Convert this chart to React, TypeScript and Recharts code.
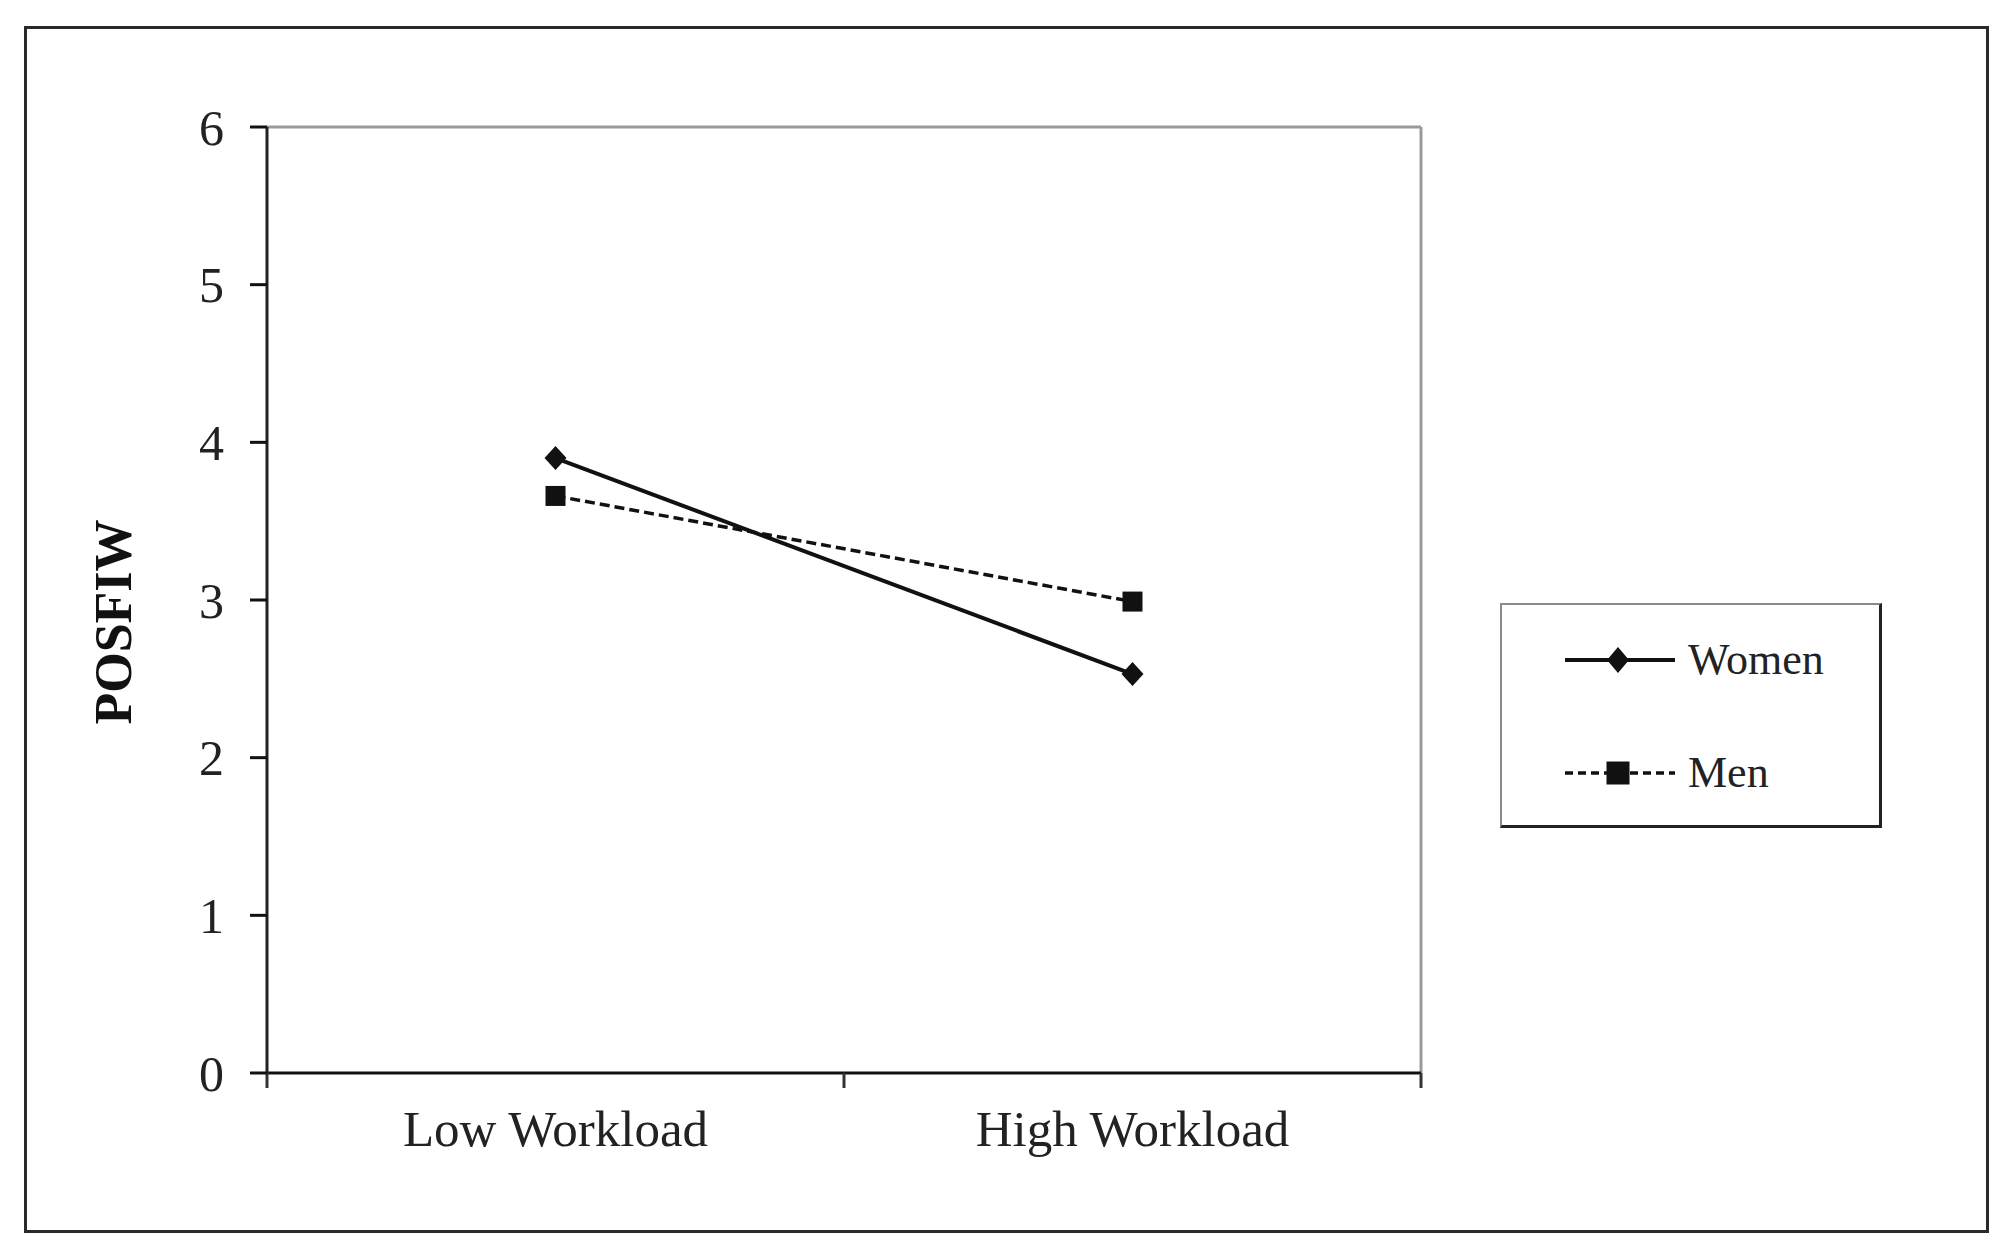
import React from "react";
import {
  LineChart,
  Line,
  XAxis,
  YAxis,
  ReferenceLine,
  Legend,
} from "recharts";

const categories = ["Low Workload", "High Workload"];
const womenValues = [3.9, 2.53];
const menValues = [3.66, 2.99];
const yTicks = [0, 1, 2, 3, 4, 5, 6];
const seriesNames = ["Women", "Men"];

const data = categories.map((name, i) => ({
  pos: i + 0.5,
  name,
  women: womenValues[i],
  men: menValues[i],
}));

const FONT = "'Liberation Serif', 'Times New Roman', serif";
const INK = "#111";

const Diamond = ({ cx, cy, w = 11, h = 12 }: any) => {
  if (cx == null || cy == null) return null;
  return (
    <polygon
      points={`${cx},${cy - h} ${cx + w},${cy} ${cx},${cy + h} ${cx - w},${cy}`}
      fill={INK}
    />
  );
};

const Square = ({ cx, cy, s = 20 }: any) => {
  if (cx == null || cy == null) return null;
  return <rect x={cx - s / 2} y={cy - s / 2} width={s} height={s} fill={INK} />;
};

const LegendBox = () => (
  <div
    style={{
      width: 382,
      height: 225,
      boxSizing: "border-box",
      borderLeft: "2px solid #8a8a8a",
      borderTop: "2px solid #8a8a8a",
      borderRight: "3px solid #222",
      borderBottom: "3px solid #222",
      background: "#fff",
    }}
  >
    <svg width={377} height={220}>
      {/* Women */}
      <line x1={63} y1={55} x2={173} y2={55} stroke={INK} strokeWidth={4} />
      <Diamond cx={116} cy={55} w={11} h={13} />
      <text x={186} y={69} fontFamily={FONT} fontSize={44} fill="#222">
        {seriesNames[0]}
      </text>
      {/* Men */}
      <line
        x1={63}
        y1={168}
        x2={173}
        y2={168}
        stroke={INK}
        strokeWidth={3.5}
        strokeDasharray="8 5"
      />
      <Square cx={116} cy={168} s={23} />
      <text x={186} y={182} fontFamily={FONT} fontSize={44} fill="#222">
        {seriesNames[1]}
      </text>
    </svg>
  </div>
);

const YLabel = ({ viewBox }: any) => {
  const x = viewBox.x + 46;
  const y = viewBox.y + viewBox.height / 2 + 22;
  return (
    <text
      x={x}
      y={y}
      transform={`rotate(-90, ${x}, ${y})`}
      textAnchor="middle"
      dominantBaseline="central"
      fontFamily={FONT}
      fontWeight="bold"
      fontSize={52}
      fill={INK}
    >
      POSFIW
    </text>
  );
};

export default function App() {
  return (
    <div
      style={{
        position: "absolute",
        left: 0,
        top: 0,
        width: 2011,
        height: 1251,
        background: "#fff",
      }}
    >
      <div
        style={{
          position: "absolute",
          left: 24,
          top: 26,
          width: 1965,
          height: 1207,
          boxSizing: "border-box",
          border: "3px solid #2a2a2a",
        }}
      />
      <div style={{ position: "absolute", left: 0, top: 0 }}>
        <LineChart
          width={2011}
          height={1251}
          data={data}
          margin={{ top: 127, right: 590, bottom: 78, left: 67 }}
        >
          <XAxis
            xAxisId="axisA"
            type="number"
            dataKey="pos"
            domain={[0, 2]}
            ticks={[0, 1, 2]}
            tickSize={15}
            tickFormatter={() => ""}
            height={1}
            axisLine={{ stroke: INK, strokeWidth: 3 }}
            tickLine={{ stroke: "#333", strokeWidth: 3 }}
          />
          <XAxis
            xAxisId="axisB"
            type="number"
            dataKey="pos"
            domain={[0, 2]}
            ticks={[0.5, 1.5]}
            tickFormatter={(v: number) => categories[Math.floor(v)]}
            axisLine={false}
            tickLine={false}
            tickSize={0}
            tickMargin={36}
            height={99}
            tick={{ fontFamily: FONT, fontSize: 51, fill: "#222" }}
          />
          <YAxis
            type="number"
            domain={[0, 6]}
            ticks={yTicks}
            width={200}
            tickSize={17}
            tickMargin={26}
            axisLine={{ stroke: "#222", strokeWidth: 3 }}
            tickLine={{ stroke: INK, strokeWidth: 3 }}
            tick={{ fontFamily: FONT, fontSize: 50, fill: "#222" }}
            label={{ content: <YLabel /> }}
          />
          <ReferenceLine xAxisId="axisA" y={6} stroke="#9a9a9a" strokeWidth={3} />
          <ReferenceLine xAxisId="axisA" x={2} stroke="#9a9a9a" strokeWidth={3} />
          <Line
            xAxisId="axisA"
            dataKey="women"
            name={seriesNames[0]}
            stroke={INK}
            strokeWidth={4}
            dot={<Diamond />}
            activeDot={false}
            isAnimationActive={false}
          />
          <Line
            xAxisId="axisA"
            dataKey="men"
            name={seriesNames[1]}
            stroke={INK}
            strokeWidth={3.5}
            strokeDasharray="10 5"
            dot={<Square />}
            activeDot={false}
            isAnimationActive={false}
          />
          <Legend
            layout="horizontal"
            verticalAlign="middle"
            align="center"
            content={() => <LegendBox />}
            wrapperStyle={{
              position: "absolute",
              left: 1500,
              top: 603,
              width: 382,
              height: 225,
            }}
          />
        </LineChart>
      </div>
    </div>
  );
}
